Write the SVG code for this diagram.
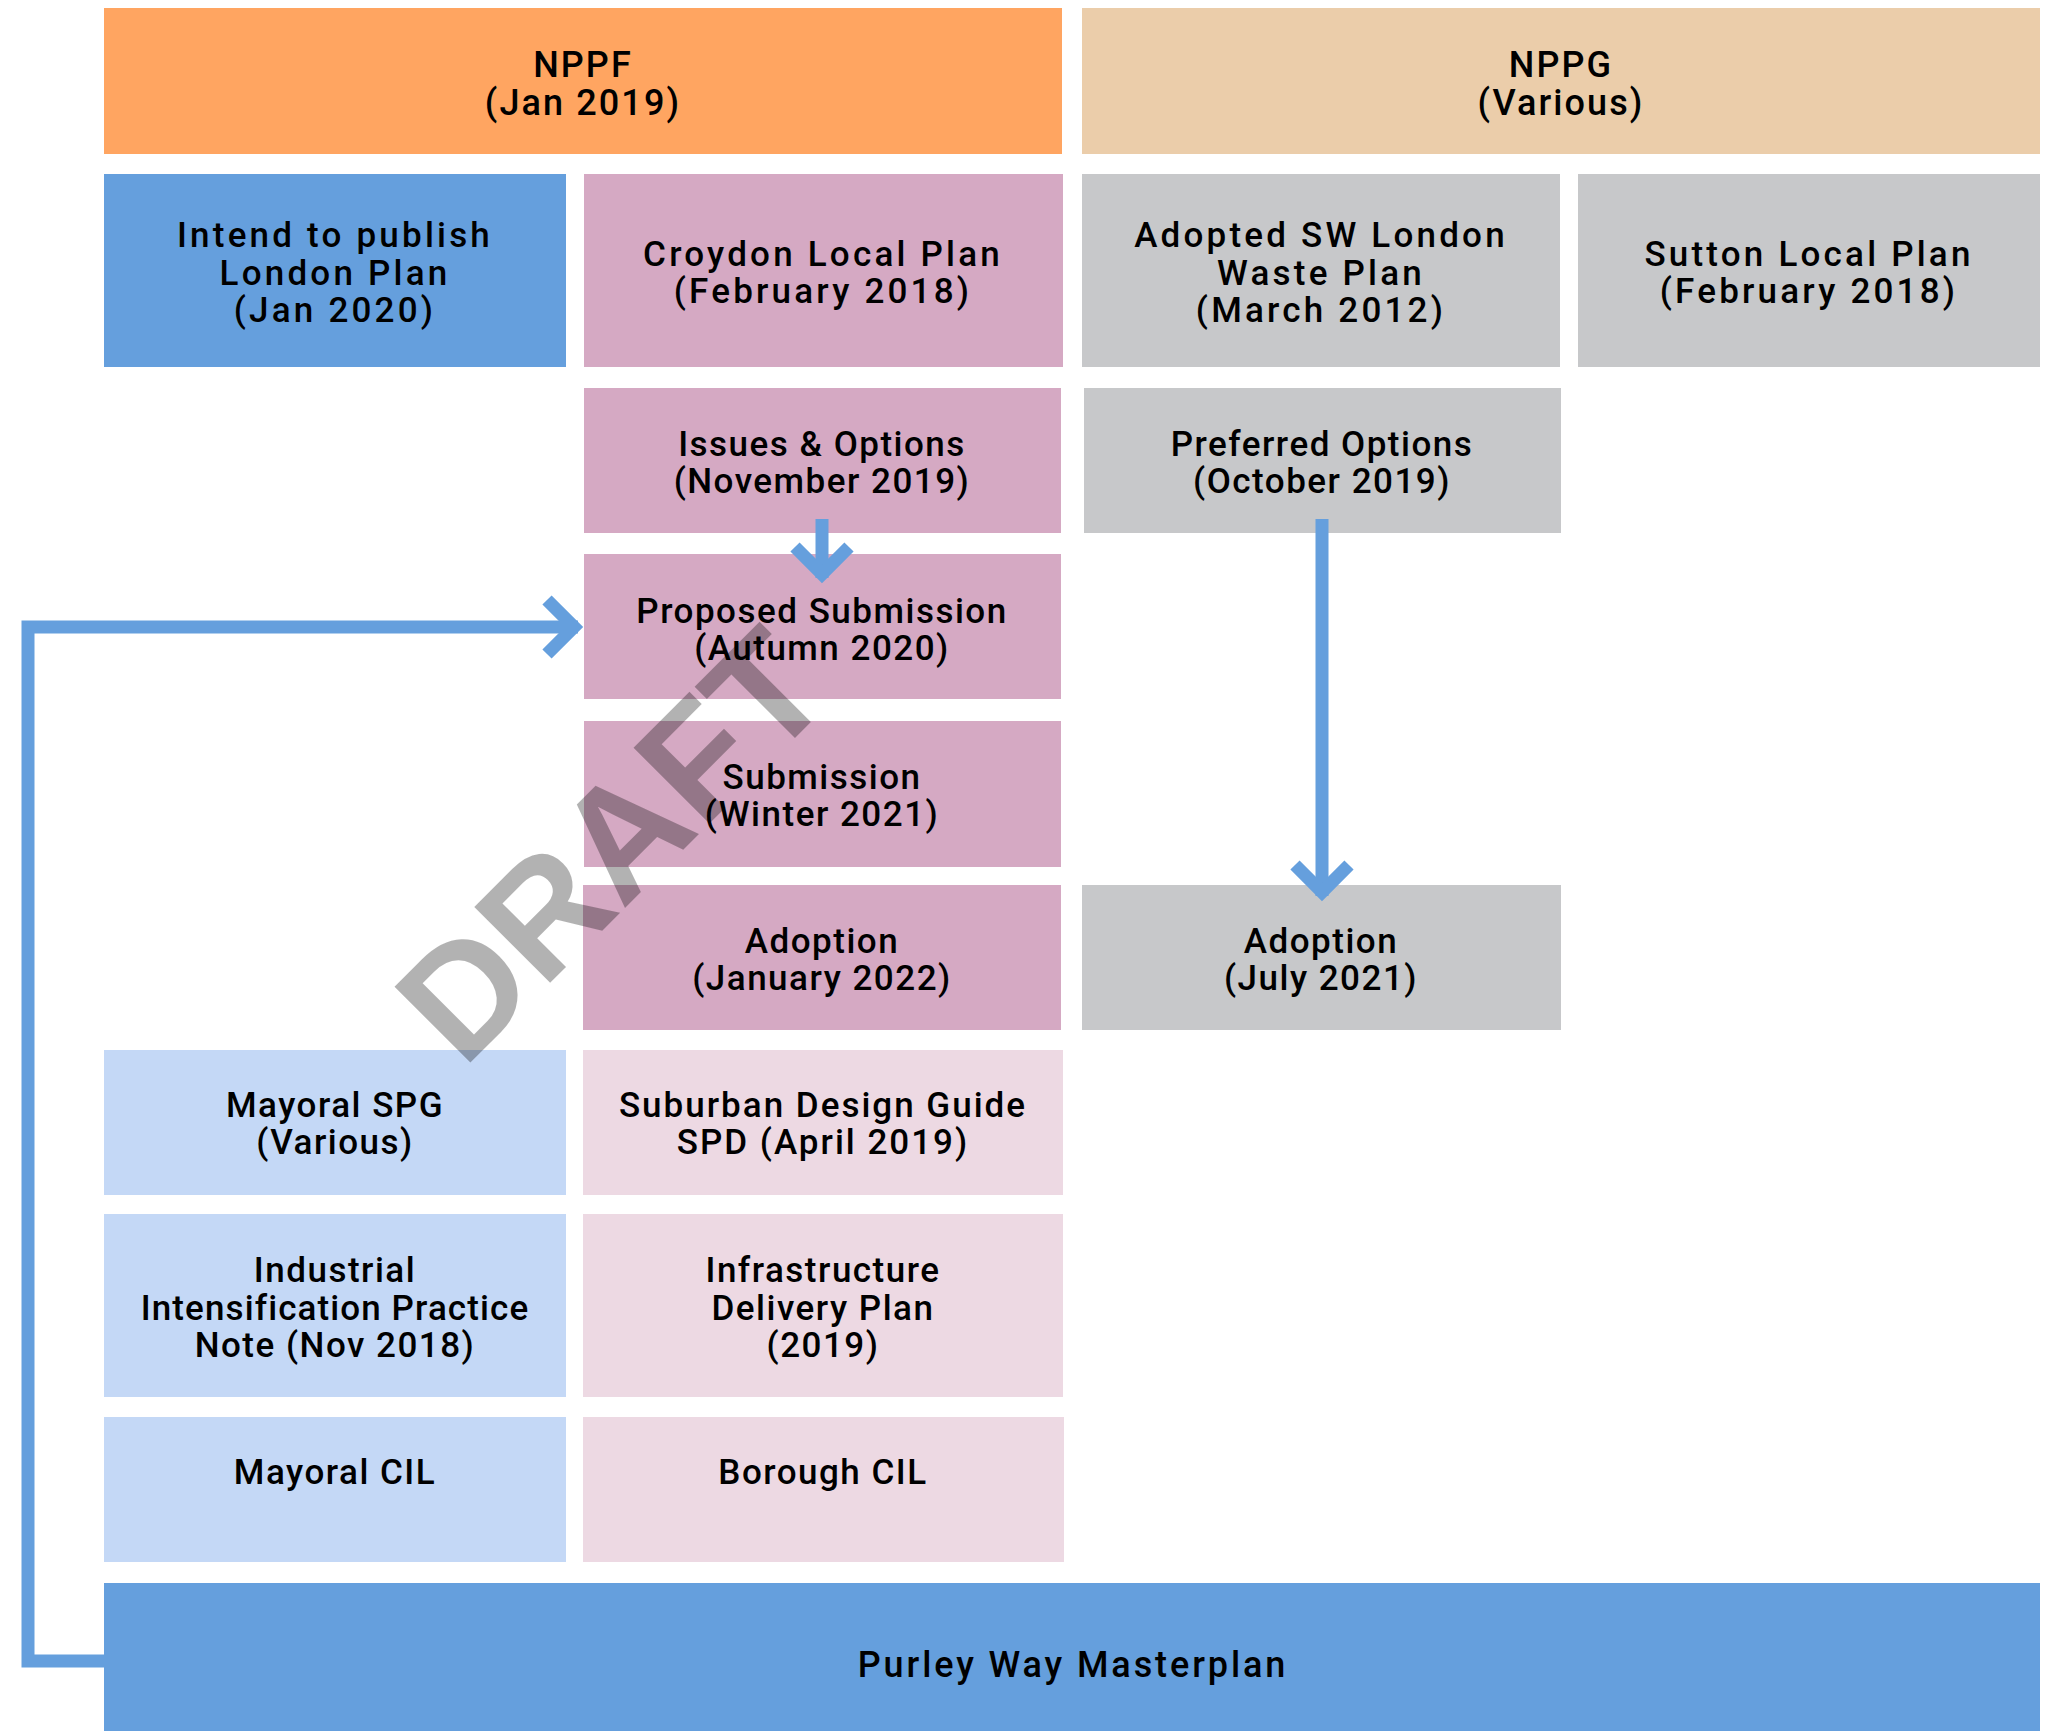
<svg xmlns="http://www.w3.org/2000/svg" width="2050" height="1731" viewBox="0 0 2050 1731">
<style>
  text { font-family: Roboto, "Liberation Sans", Arial, sans-serif; font-weight: 500; font-size: 35px; fill: #000; text-anchor: middle; letter-spacing: 1.5px; }
  .top { font-size: 36px; letter-spacing: 2.1px; }
  .row2 { font-size: 35px; letter-spacing: 3.2px; }
  .big { font-size: 36px; letter-spacing: 2.9px; }
  .orange { fill: #FFA561; }
  .beige { fill: #EBCDAA; }
  .blue { fill: #659FDD; }
  .pink { fill: #D5A9C3; }
  .gray { fill: #C7C8CA; }
  .lblue { fill: #C4D8F6; }
  .lpink { fill: #EDD9E3; }
  .conn { fill: none; stroke: #659FDD; stroke-width: 13; stroke-linejoin: miter; stroke-linecap: butt; }
  .draft { font-family: "Liberation Sans", Arial, sans-serif; font-weight: 700; font-size: 156px; fill: #000; fill-opacity: 0.3; text-anchor: start; letter-spacing: 0; }
</style>
<rect width="2050" height="1731" fill="#FFFFFF"/>

<g id="nppf"><rect class="orange" x="104" y="8" width="958" height="146"/>
  <text class="top" x="583" y="77">NPPF</text><text class="top" x="583" y="115">(Jan 2019)</text></g>
<g id="nppg"><rect class="beige" x="1082" y="8" width="958" height="146"/>
  <text class="top" x="1561" y="77">NPPG</text><text class="top" x="1561" y="115">(Various)</text></g>

<g id="london-plan"><rect class="blue" x="104" y="174" width="462" height="193"/>
  <text class="row2" x="335" y="247">Intend to publish</text><text class="row2" x="335" y="285">London Plan</text><text class="row2" x="335" y="322">(Jan 2020)</text></g>
<g id="croydon-local-plan"><rect class="pink" x="584" y="174" width="479" height="193"/>
  <text class="row2" x="823" y="266">Croydon Local Plan</text><text class="row2" x="823" y="303">(February 2018)</text></g>
<g id="sw-london-waste-plan"><rect class="gray" x="1082" y="174" width="478" height="193"/>
  <text class="row2" x="1321" y="247">Adopted SW London</text><text class="row2" x="1321" y="285">Waste Plan</text><text class="row2" x="1321" y="322">(March 2012)</text></g>
<g id="sutton-local-plan"><rect class="gray" x="1578" y="174" width="462" height="193"/>
  <text class="row2" x="1809" y="266">Sutton Local Plan</text><text class="row2" x="1809" y="303">(February 2018)</text></g>

<g id="issues-options"><rect class="pink" x="584" y="388" width="477" height="145"/>
  <text x="822" y="456">Issues &amp; Options</text><text x="822" y="493">(November 2019)</text></g>
<g id="preferred-options"><rect class="gray" x="1084" y="388" width="477" height="145"/>
  <text x="1322" y="456">Preferred Options</text><text x="1322" y="493">(October 2019)</text></g>

<g id="proposed-submission"><rect class="pink" x="584" y="554" width="477" height="145"/>
  <text x="822" y="623">Proposed Submission</text><text x="822" y="660">(Autumn 2020)</text></g>
<g id="submission"><rect class="pink" x="584" y="721" width="477" height="146"/>
  <text x="822" y="789">Submission</text><text x="822" y="826">(Winter 2021)</text></g>
<g id="adoption-croydon"><rect class="pink" x="583" y="885" width="478" height="145"/>
  <text x="822" y="953">Adoption</text><text x="822" y="990">(January 2022)</text></g>
<g id="adoption-sutton"><rect class="gray" x="1082" y="885" width="479" height="145"/>
  <text x="1321" y="953">Adoption</text><text x="1321" y="990">(July 2021)</text></g>

<g id="mayoral-spg"><rect class="lblue" x="104" y="1050" width="462" height="145"/>
  <text x="335" y="1117">Mayoral SPG</text><text x="335" y="1154">(Various)</text></g>
<g id="suburban-design-guide"><rect class="lpink" x="583" y="1050" width="480" height="145"/>
  <text x="823" y="1117" style="letter-spacing:2px">Suburban Design Guide</text><text x="823" y="1154" style="letter-spacing:2px">SPD (April 2019)</text></g>
<g id="industrial-intensification"><rect class="lblue" x="104" y="1214" width="462" height="183"/>
  <text x="335" y="1282">Industrial</text><text x="335" y="1320" style="letter-spacing:1.1px">Intensification Practice</text><text x="335" y="1357">Note (Nov 2018)</text></g>
<g id="infrastructure-delivery-plan"><rect class="lpink" x="583" y="1214" width="480" height="183"/>
  <text x="823" y="1282">Infrastructure</text><text x="823" y="1320">Delivery Plan</text><text x="823" y="1357">(2019)</text></g>
<g id="mayoral-cil"><rect class="lblue" x="104" y="1417" width="462" height="145"/>
  <text x="335" y="1484">Mayoral CIL</text></g>
<g id="borough-cil"><rect class="lpink" x="583" y="1417" width="481" height="145"/>
  <text x="823" y="1484">Borough CIL</text></g>

<g id="connectors">
  <path class="conn" d="M105 1661 H28 V627 H578"/>
  <path class="conn" d="M547 600 L574 627 L547 654"/>
  <path class="conn" d="M822 519 V578"/>
  <path class="conn" d="M795 547 L822 574 L849 547"/>
  <path class="conn" d="M1322 519 V896"/>
  <path class="conn" d="M1295 865 L1322 892 L1349 865"/>
</g>

<g id="purley-way-masterplan"><rect class="blue" x="104" y="1583" width="1936" height="148"/>
  <text class="big" x="1073" y="1677">Purley Way Masterplan</text></g>

<text class="draft" transform="translate(463 1070) rotate(-45)" x="0" y="0">DRAFT</text>
</svg>
